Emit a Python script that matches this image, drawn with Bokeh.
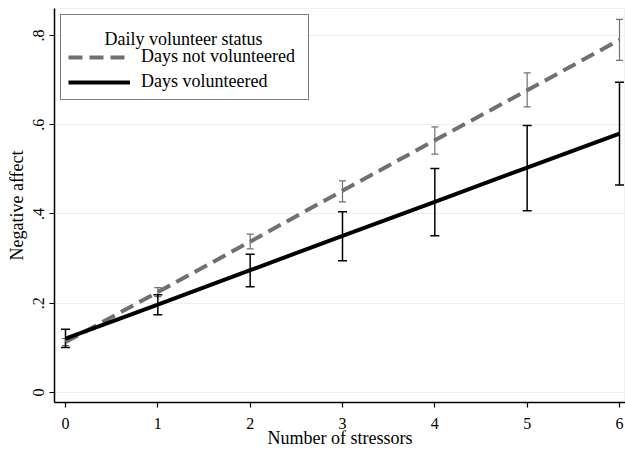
from bokeh.plotting import figure
from bokeh.models import (ColumnDataSource, Whisker, TeeHead, Legend, LegendItem,
                          Label, FixedTicker, Range1d, BoxAnnotation)
from bokeh.embed import file_html
from bokeh.resources import INLINE

# ---- data ----
stressors = [0, 1, 2, 3, 4, 5, 6]
not_vol_mean = [0.113, 0.225, 0.338, 0.452, 0.565, 0.677, 0.790]
not_vol_lower = [0.105, 0.215, 0.322, 0.427, 0.534, 0.640, 0.744]
not_vol_upper = [0.121, 0.235, 0.355, 0.474, 0.595, 0.716, 0.836]
vol_mean = [0.121, 0.197, 0.274, 0.351, 0.427, 0.504, 0.580]
vol_lower = [0.101, 0.174, 0.237, 0.295, 0.351, 0.407, 0.465]
vol_upper = [0.142, 0.219, 0.310, 0.405, 0.502, 0.598, 0.695]
x_ticks = [0, 1, 2, 3, 4, 5, 6]
y_ticks = [0, 0.2, 0.4, 0.6, 0.8]
y_tick_labels = ["0", ".2", ".4", ".6", ".8"]
legend_title = "Daily volunteer status"
series_labels = ["Days not volunteered", "Days volunteered"]

FONT = "Liberation Serif"
GRAY = "#707070"

src_nv = ColumnDataSource(dict(x=stressors, y=not_vol_mean, lower=not_vol_lower, upper=not_vol_upper))
src_v = ColumnDataSource(dict(x=stressors, y=vol_mean, lower=vol_lower, upper=vol_upper))

p = figure(width=625, height=450, output_backend="svg", toolbar_location=None,
           x_range=Range1d(-0.1191, 6.065), y_range=Range1d(-0.02235, 0.8603),
           min_border_left=54, min_border_right=0, min_border_top=8, min_border_bottom=47,
           background_fill_color="white", border_fill_color="white")
p.outline_line_color = "#f0f0f0"

# grid
p.xgrid.visible = False
p.ygrid.ticker = FixedTicker(ticks=y_ticks)
p.ygrid.grid_line_color = "#eeeeee"
p.ygrid.grid_line_width = 1

# whiskers
w_nv = Whisker(source=src_nv, base="x", lower="lower", upper="upper",
               line_color=GRAY, line_width=1.2,
               upper_head=TeeHead(size=7, line_color=GRAY, line_width=1.2),
               lower_head=TeeHead(size=7, line_color=GRAY, line_width=1.2))
w_v = Whisker(source=src_v, base="x", lower="lower", upper="upper",
              line_color="black", line_width=1.5,
              upper_head=TeeHead(size=9, line_color="black", line_width=1.5),
              lower_head=TeeHead(size=9, line_color="black", line_width=1.5))
p.add_layout(w_nv)
p.add_layout(w_v)

dummy = p.line(x=[0], y=[0], line_alpha=0)
r_nv = p.line("x", "y", source=src_nv, line_color=GRAY, line_width=4, line_dash="14 7")
r_v = p.line("x", "y", source=src_v, line_color="black", line_width=4)

# white backing for the legend box (legend itself transparent so the title shows)
p.add_layout(BoxAnnotation(left=-0.0542, right=2.621, top=0.8469, bottom=0.6637,
                           fill_color="white", fill_alpha=1, line_color=None))

legend = Legend(items=[LegendItem(label=" ", renderers=[dummy]),
                       LegendItem(label=series_labels[0], renderers=[r_nv]),
                       LegendItem(label=series_labels[1], renderers=[r_v])],
                location="top_left", margin=6, padding=7, spacing=4,
                glyph_width=62, glyph_height=20, label_height=20, label_width=160,
                label_standoff=11,
                label_text_font=FONT, label_text_font_size="18px",
                label_text_color="black",
                border_line_color="black", border_line_width=1,
                background_fill_alpha=0)
p.add_layout(legend)

p.add_layout(Label(x=1.278, y=0.7925, text=legend_title, text_align="center",
                   text_baseline="alphabetic", text_font=FONT, text_font_size="18px",
                   text_font_style="normal", text_color="black"))

# axes
for ax in (p.xaxis[0], p.yaxis[0]):
    ax.axis_line_color = "black"
    ax.axis_line_width = 1.5
    ax.major_tick_line_color = "black"
    ax.major_tick_line_width = 1.2
    ax.major_tick_out = 5
    ax.major_tick_in = 0
    ax.minor_tick_line_color = None
    ax.major_label_text_font = FONT
    ax.major_label_text_font_size = "16px"
    ax.major_label_text_color = "black"
    ax.axis_label_text_font = FONT
    ax.axis_label_text_font_size = "18px"
    ax.axis_label_text_font_style = "normal"
    ax.axis_label_text_color = "black"

p.xaxis.ticker = FixedTicker(ticks=x_ticks)
p.xaxis.axis_label = "Number of stressors"
p.xaxis.major_label_standoff = 10
p.xaxis.axis_label_standoff = -4

p.yaxis.ticker = FixedTicker(ticks=y_ticks)
p.yaxis.major_label_overrides = {t: l for t, l in zip(y_ticks, y_tick_labels)}
p.yaxis.major_label_orientation = "vertical"
p.yaxis.axis_label = "Negative affect"
p.yaxis.major_label_standoff = 5
p.yaxis.axis_label_standoff = 4

open("out.html", "w").write(file_html(p, INLINE))
